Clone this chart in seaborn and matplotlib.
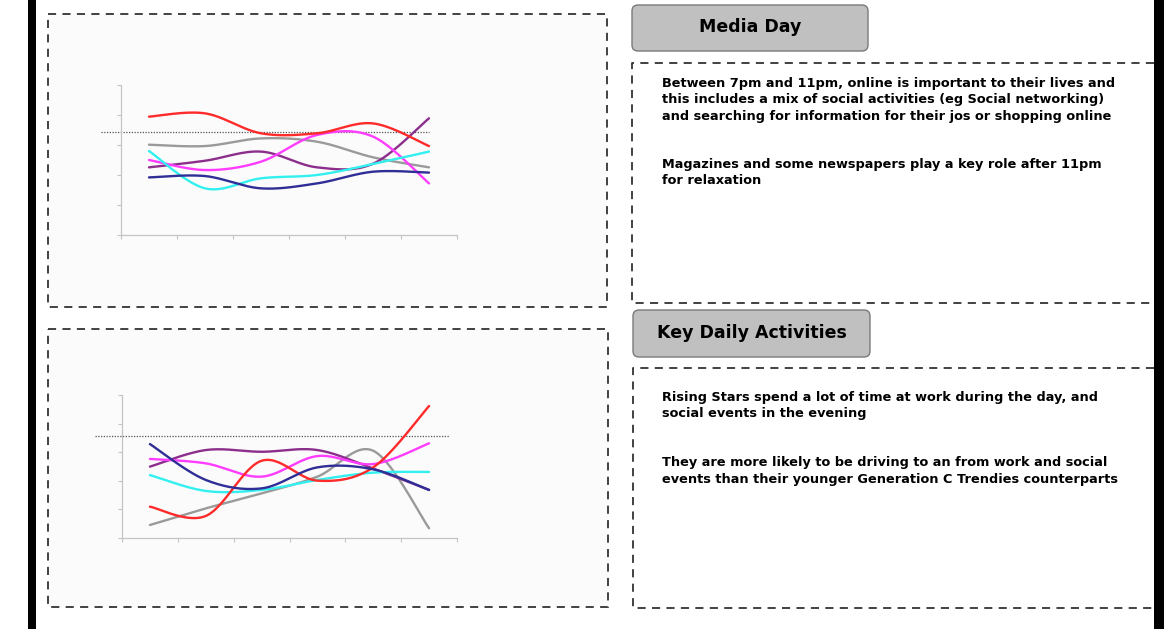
import numpy as np
import pandas as pd
import matplotlib
matplotlib.use('Agg')
import matplotlib.pyplot as plt
from matplotlib.patches import Rectangle, FancyBboxPatch
import seaborn as sns

# categories on the x axis (unlabelled in the original)
categories = [0, 1, 2, 3, 4, 5]

# top chart (Media Day)
media_red = [78.9, 81.1, 67.8, 67.8, 74.4, 59.3]
media_grey = [60.2, 59.3, 64.4, 62.2, 51.8, 45.1]
media_purple = [45.1, 49.5, 55.6, 45.1, 47.5, 77.8]
media_magenta = [50.0, 43.3, 48.9, 66.7, 65.6, 34.4]
media_cyan = [56.0, 31.1, 37.8, 40.0, 47.3, 55.6]
media_navy = [38.4, 39.3, 31.1, 34.4, 42.2, 41.6]
media_ref = 69.0

# bottom chart (Key Daily Activities)
daily_red = [21.9, 15.4, 54.0, 40.1, 49.4, 92.3]
daily_grey = [9.1, 20.7, 31.2, 42.9, 61.0, 6.8]
daily_purple = [49.9, 61.5, 60.3, 61.5, 48.5, 33.6]
daily_magenta = [55.3, 52.2, 42.9, 57.3, 51.7, 66.2]
daily_cyan = [44.0, 32.9, 33.6, 40.6, 45.7, 46.2]
daily_navy = [65.7, 40.6, 34.7, 49.4, 48.0, 33.6]
daily_ref = 71.3

series_names = ['grey', 'purple', 'magenta', 'cyan', 'red', 'navy']
palette = {'red': '#ff2a2a', 'grey': '#9a9a9a', 'purple': '#8c2f8c',
           'magenta': '#ff3cff', 'cyan': '#33f0f0', 'navy': '#2e2e96'}

media_series = {'red': media_red, 'grey': media_grey, 'purple': media_purple,
                'magenta': media_magenta, 'cyan': media_cyan, 'navy': media_navy}
daily_series = {'red': daily_red, 'grey': daily_grey, 'purple': daily_purple,
                'magenta': daily_magenta, 'cyan': daily_cyan, 'navy': daily_navy}

W, H = 1164, 629


def smooth(xs, ys, n=30):
    # Excel style "smoothed line": cubic bezier through the points
    p = np.column_stack([xs, ys]).astype(float)
    pe = np.vstack([p[0], p, p[-1]])
    out = []
    for i in range(len(p) - 1):
        p0, p1, p2, p3 = pe[i], pe[i + 1], pe[i + 2], pe[i + 3]
        c1 = p1 + (p2 - p0) / 6
        c2 = p2 - (p3 - p1) / 6
        t = np.linspace(0, 1, n)[:, None]
        seg = ((1 - t) ** 3) * p1 + 3 * ((1 - t) ** 2) * t * c1 + 3 * (1 - t) * t ** 2 * c2 + t ** 3 * p2
        out.append(seg if i == 0 else seg[1:])
    out = np.vstack(out)
    return out[:, 0], out[:, 1]


def draw_chart(box, series, ref, ref_span):
    left, top, right, bottom = box
    ax = fig.add_axes([left / W, 1 - bottom / H, (right - left) / W, (bottom - top) / H])
    rows = []
    for name in series_names:
        sx, sy = smooth(categories, series[name])
        rows.append(pd.DataFrame({'x': sx, 'y': sy, 'series': name}))
    df = pd.concat(rows, ignore_index=True)
    sns.lineplot(data=df, x='x', y='y', hue='series', hue_order=series_names, palette=palette,
                 sort=False, estimator=None, units='series', legend=False, linewidth=1.7, ax=ax)
    ax.axhline(ref, xmin=ref_span[0], xmax=ref_span[1], color='#555555', lw=0.9,
               linestyle=(0, (1, 1.2)), clip_on=False, zorder=0)
    ax.set_xlim(-0.5, 5.5)
    ax.set_ylim(0, 100)
    ax.set_xticks(np.arange(-0.5, 6, 1))
    ax.set_yticks(np.arange(0, 101, 20))
    ax.set_xticklabels([])
    ax.set_yticklabels([])
    ax.set_xlabel('')
    ax.set_ylabel('')
    ax.patch.set_alpha(0)
    for s in ['top', 'right']:
        ax.spines[s].set_visible(False)
    for s in ['left', 'bottom']:
        ax.spines[s].set_color('#c4c4c4')
        ax.spines[s].set_linewidth(0.9)
    ax.tick_params(axis='both', bottom=True, left=True, length=3, width=0.8,
                   color='#c4c4c4', direction='out')
    return ax


sns.set_style('white')
plt.rcParams['font.family'] = ['DejaVu Sans']

fig = plt.figure(figsize=(W / 100, H / 100), dpi=100)
bg = fig.add_axes([0, 0, 1, 1])
bg.set_xlim(0, W)
bg.set_ylim(H, 0)
bg.axis('off')

# black side bars
bg.add_patch(Rectangle((28, 0), 8, H, color='black', lw=0))
bg.add_patch(Rectangle((1154, 0), 10, H, color='black', lw=0, zorder=5))

dash = (0, (4.5, 3.5))
# chart panels
for (x0, y0, x1, y1) in [(48, 14, 607, 307), (48, 329, 608, 607)]:
    bg.add_patch(Rectangle((x0, y0), x1 - x0, y1 - y0, facecolor='#fbfbfb', edgecolor='#333333',
                           lw=1.3, linestyle=dash))

# text panels (open on the right, under the black bar)
for (x0, y0, y1) in [(632, 63, 303), (633, 368, 608)]:
    bg.plot([1154, x0, x0, 1154], [y0, y0, y1, y1], color='#333333', lw=1.3, linestyle=dash)

# header boxes
headers = ['Media Day', 'Key Daily Activities']
for (x0, y0, x1, y1), label in zip([(632, 5, 868, 51), (633, 310, 870, 357)], headers):
    bg.add_patch(FancyBboxPatch((x0, y0), x1 - x0, y1 - y0, boxstyle='round,pad=0,rounding_size=6',
                                facecolor='#c0c0c0', edgecolor='#7a7a7a', lw=1))
    bg.text((x0 + x1) / 2, (y0 + y1) / 2 - 0.5, label, ha='center', va='center',
            fontsize=12.5, fontweight='bold', color='black')

paragraphs = [
    (662, 77, 'Between 7pm and 11pm, online is important to their lives and\n'
              'this includes a mix of social activities (eg Social networking)\n'
              'and searching for information for their jos or shopping online'),
    (662, 158, 'Magazines and some newspapers play a key role after 11pm\n'
               'for relaxation'),
    (662, 391, 'Rising Stars spend a lot of time at work during the day, and\n'
               'social events in the evening'),
    (662, 456, 'They are more likely to be driving to an from work and social\n'
               'events than their younger Generation C Trendies counterparts'),
]
for x, y, txt in paragraphs:
    bg.text(x, y, txt, ha='left', va='top', fontsize=9.3, fontweight='bold',
            color='black', linespacing=1.35)

draw_chart((121, 85, 457, 235), media_series, media_ref, (-0.06, 0.917))
draw_chart((122, 395, 457, 538), daily_series, daily_ref, (-0.08, 0.976))

fig.savefig('out.png', dpi=100)
